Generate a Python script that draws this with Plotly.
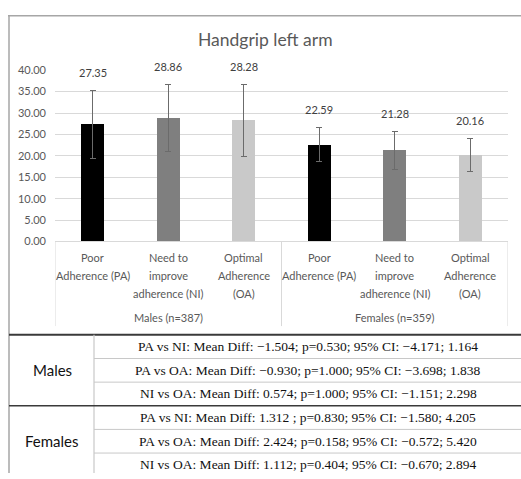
import plotly.graph_objects as go

W, H = 521, 479

# ---- data -------------------------------------------------------------
title = "Handgrip left arm"
cat_lines = [
    ["Poor", "Adherence (PA)"],
    ["Need to", "improve", "adherence (NI)"],
    ["Optimal", "Adherence", "(OA)"],
    ["Poor", "Adherence (PA)"],
    ["Need to", "improve", "adherence (NI)"],
    ["Optimal", "Adherence", "(OA)"],
]
groups = ["Males (n=387)", "Females (n=359)"]
means = [27.35, 28.86, 28.28, 22.59, 21.28, 20.16]
sds = [7.9, 7.9, 8.5, 4.0, 4.45, 3.9]
bar_colors = ["#000000", "#7f7f7f", "#c9c9c9", "#000000", "#7f7f7f", "#c9c9c9"]
y_ticks = [0, 5, 10, 15, 20, 25, 30, 35, 40]

table_groups = ["Males", "Females"]
table_rows = [
    ["PA vs NI: Mean Diff: \u22121.504; p=0.530; 95% CI: \u22124.171; 1.164",
     "PA vs OA: Mean Diff: \u22120.930; p=1.000; 95% CI: \u22123.698; 1.838",
     "NI vs OA: Mean Diff: 0.574; p=1.000; 95% CI: \u22121.151; 2.298"],
    ["PA vs NI: Mean Diff: 1.312 ; p=0.830; 95% CI: \u22121.580; 4.205",
     "PA vs OA: Mean Diff: 2.424; p=0.158; 95% CI: \u22120.572; 5.420",
     "NI vs OA: Mean Diff: 1.112; p=0.404; 95% CI: \u22120.670; 2.894"],
]

# ---- helpers (pixel -> paper) -------------------------------------------
def px(x):
    return x / W

def py(y):
    return 1 - y / H

SANS = "Lato"
SERIF = "Liberation Serif"
GREY = "#595959"

xs = list(range(len(means)))

fig = go.Figure()
fig.add_trace(go.Bar(
    x=xs, y=means, width=0.31,
    marker=dict(color=bar_colors, line=dict(width=0)),
    error_y=dict(type="data", array=sds, visible=True,
                 color="#6b6b6b", thickness=1, width=3),
    hoverinfo="skip",
))

annotations = []
# value labels above the error bars
for x, m, s in zip(xs, means, sds):
    annotations.append(dict(
        x=x, y=m + s, xref="x", yref="y", text=f"{m:.2f}",
        showarrow=False, yanchor="middle", yshift=18,
        font=dict(family=SANS, size=11, color="#404040")))

# category labels (one annotation per wrapped line)
y_first = 258
line_gap = 18
for x, lines in zip(xs, cat_lines):
    for k, ln in enumerate(lines):
        annotations.append(dict(
            x=x, y=py(y_first + k * line_gap), xref="x", yref="paper",
            text=ln, showarrow=False, yanchor="middle",
            font=dict(family=SANS, size=11, color=GREY)))

# group labels
for gi, g in enumerate(groups):
    annotations.append(dict(
        x=gi * 3 + 1, y=py(319), xref="x", yref="paper", text=g,
        showarrow=False, yanchor="middle",
        font=dict(family=SANS, size=11, color=GREY)))

# title
annotations.append(dict(
    x=px(265), y=py(33), xref="paper", yref="paper", text=title,
    showarrow=False, xanchor="center", yanchor="middle",
    font=dict(family=SANS, size=17.5, color=GREY)))

shapes = []
# group separators under the category axis
for xv in [-0.5, 2.5, 5.5]:
    shapes.append(dict(type="line", xref="x", yref="paper",
                       x0=xv, x1=xv, y0=py(241), y1=py(328),
                       line=dict(color="#d9d9d9", width=1)))

# chart frame (top and left edges)
shapes.append(dict(type="line", xref="paper", yref="paper",
                   x0=px(8), x1=1, y0=py(9), y1=py(9),
                   line=dict(color="#a6a6a6", width=1.5)))
shapes.append(dict(type="line", xref="paper", yref="paper",
                   x0=px(9), x1=px(9), y0=py(9), y1=0,
                   line=dict(color="#a6a6a6", width=1.5)))

# ---- comparison table ---------------------------------------------------
t_top = 337
row_h = 24.3
col_x = 94
dark = "#3a3a3a"
light = "#c8c8c8"

shapes.append(dict(type="line", xref="paper", yref="paper",
                   x0=px(9), x1=1, y0=py(t_top), y1=py(t_top),
                   line=dict(color=dark, width=2)))
shapes.append(dict(type="line", xref="paper", yref="paper",
                   x0=px(col_x), x1=px(col_x), y0=py(t_top), y1=0,
                   line=dict(color=light, width=1.2)))

for gi, (gname, rows) in enumerate(zip(table_groups, table_rows)):
    g_top = t_top + gi * 3 * row_h
    if gi > 0:
        shapes.append(dict(type="line", xref="paper", yref="paper",
                           x0=px(9), x1=1, y0=py(g_top), y1=py(g_top),
                           line=dict(color=dark, width=1.5)))
    annotations.append(dict(
        x=px(52), y=py(g_top + 1.5 * row_h), xref="paper", yref="paper",
        text=gname, showarrow=False, xanchor="center", yanchor="middle",
        font=dict(family=SANS, size=15, color="#111111")))
    for ri, txt in enumerate(rows):
        r_top = g_top + ri * row_h
        if ri > 0:
            shapes.append(dict(type="line", xref="paper", yref="paper",
                               x0=px(col_x), x1=1, y0=py(r_top), y1=py(r_top),
                               line=dict(color=light, width=1)))
        annotations.append(dict(
            x=px(308), y=py(r_top + row_h / 2), xref="paper", yref="paper",
            text=txt, showarrow=False, xanchor="center", yanchor="middle",
            font=dict(family=SERIF, size=13.5, color="#111111")))

fig.update_layout(
    width=W, height=H,
    margin=dict(l=0, r=0, t=0, b=0),
    paper_bgcolor="white", plot_bgcolor="white",
    showlegend=False,
    bargap=0,
    xaxis=dict(domain=[px(55), px(508)], range=[-0.5, 5.5],
               showticklabels=False, showgrid=False, zeroline=False,
               showline=False, ticks="", fixedrange=True),
    yaxis=dict(domain=[py(241), py(65)], range=[0, 40],
               tickvals=y_ticks, tickformat=".2f",
               tickfont=dict(family=SANS, size=11, color=GREY),
               showgrid=True, gridcolor="#d9d9d9", gridwidth=1,
               zeroline=True, zerolinecolor="#d9d9d9", zerolinewidth=1,
               showline=False, ticks="", ticklabelstandoff=8,
               fixedrange=True),
    annotations=annotations,
    shapes=shapes,
)

fig.write_html("out.html")
